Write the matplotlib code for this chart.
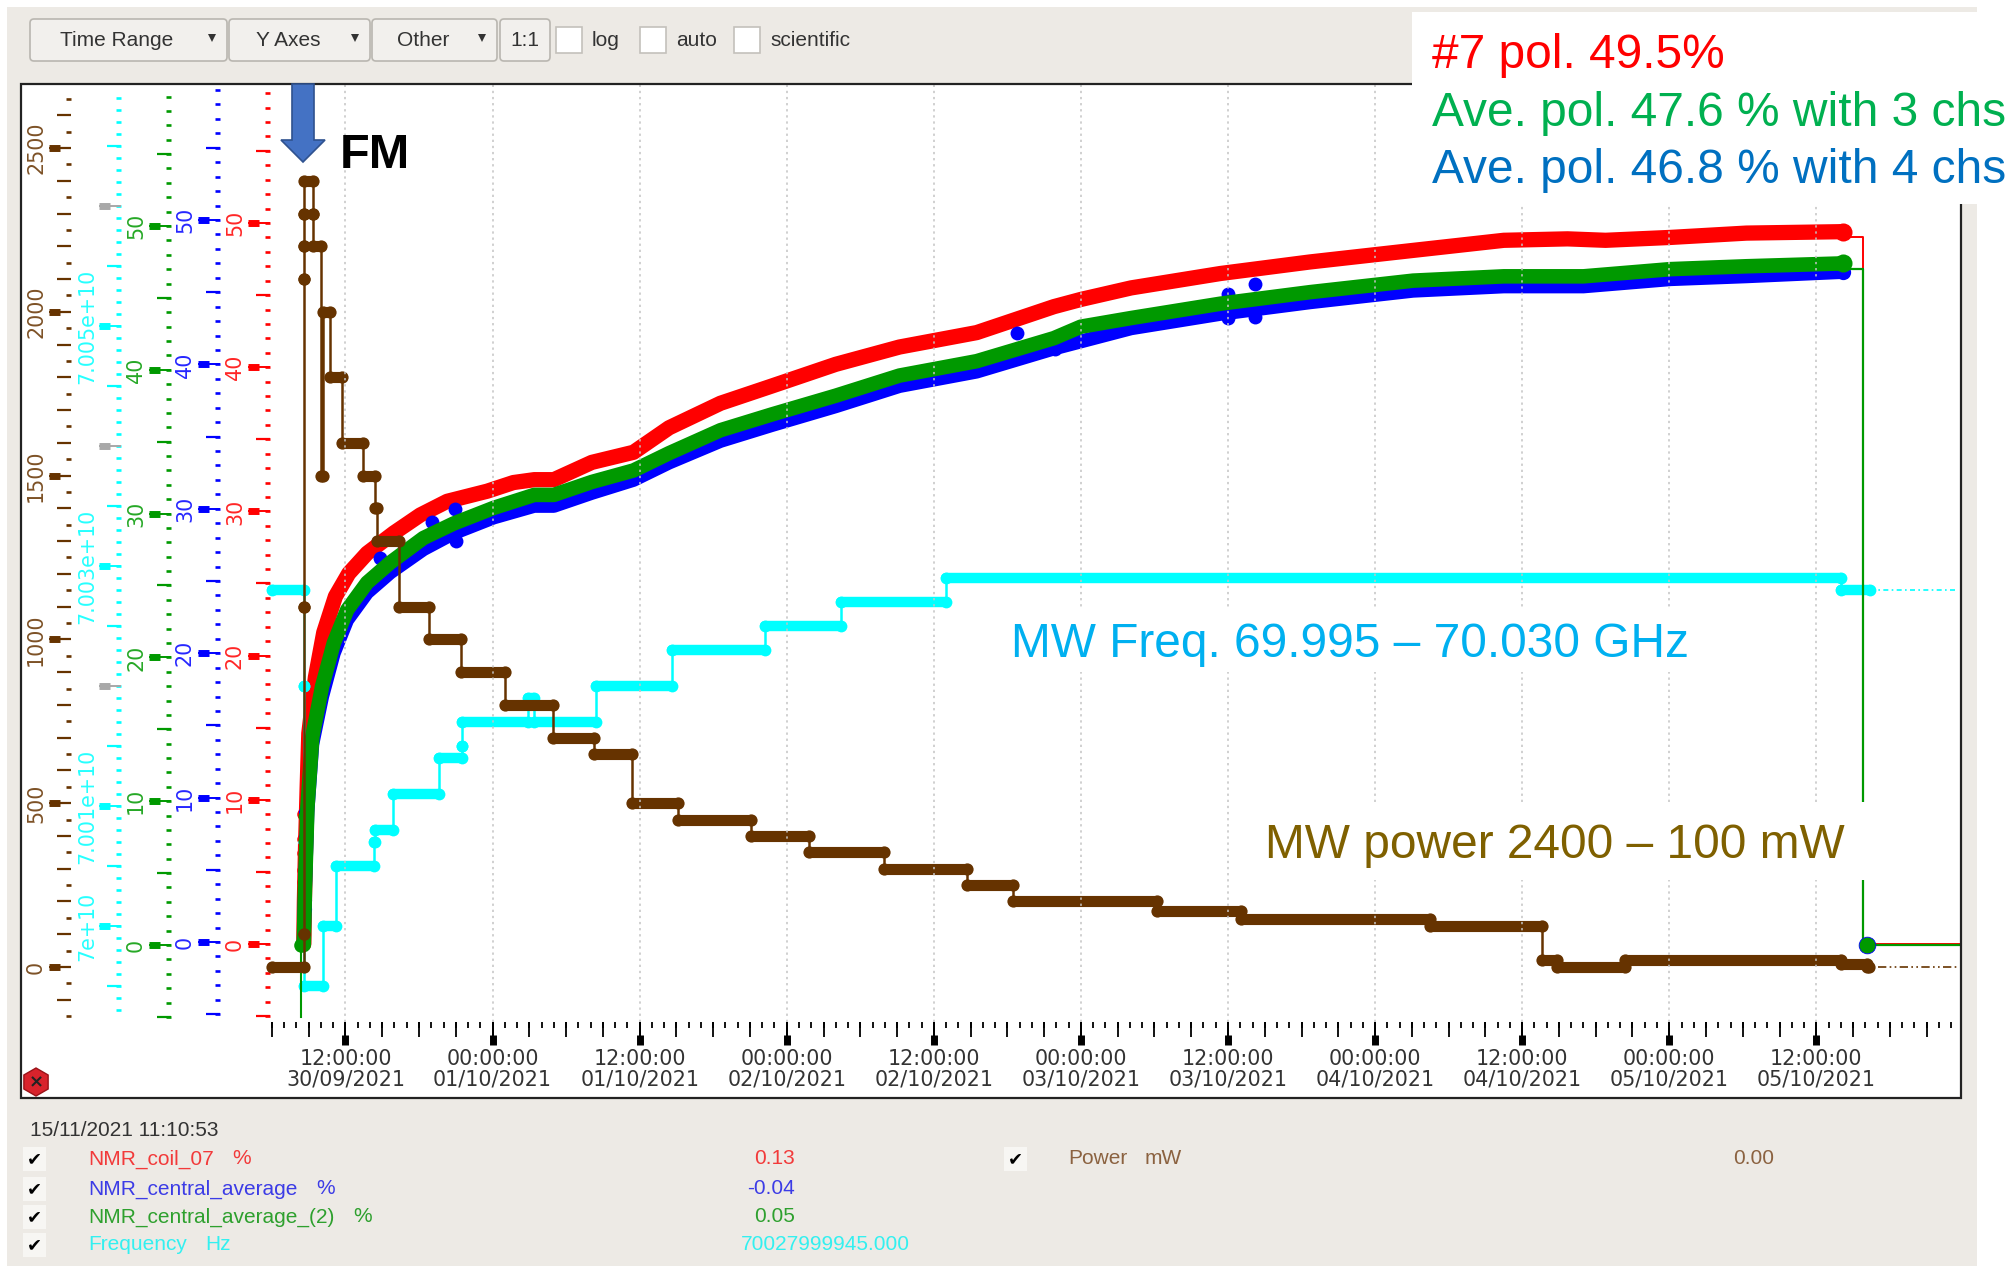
import numpy as np
import matplotlib
matplotlib.use("Agg")
import matplotlib.pyplot as plt
from matplotlib.patches import FancyBboxPatch, Polygon, Rectangle, RegularPolygon

# hours counted from 12:00 on 30/09/2021
time_ticks = [0, 12, 24, 36, 48, 60, 72, 84, 96, 108, 120]
time_labels = [
    "12:00:00\n30/09/2021", "00:00:00\n01/10/2021", "12:00:00\n01/10/2021", "00:00:00\n02/10/2021",
    "12:00:00\n02/10/2021", "00:00:00\n03/10/2021", "12:00:00\n03/10/2021", "00:00:00\n04/10/2021",
    "12:00:00\n04/10/2021", "00:00:00\n05/10/2021", "12:00:00\n05/10/2021",
]

red_t = [-3.4, -3.35, -3.25, -3.12, -2.99, -2.45, -1.77, -0.82, 0.27, 1.77, 3.94, 6.1, 8.3, 11.56, 13.7, 15.4, 17.0,
         20.1, 23.5, 26.4, 30.6, 34.8, 40.0, 45.2, 51.5, 57.8, 60.0, 64.1, 71.4, 78.7, 87.1, 94.5, 99.7, 102.8, 108.1,
         114.3, 122.2]
red_v = [0, 3, 7, 11, 14.6, 18.5, 21.6, 24.1, 25.7, 27.1, 28.5, 29.75, 30.7, 31.4, 32.0, 32.2, 32.2,
         33.4, 34.1, 35.8, 37.5, 38.7, 40.2, 41.4, 42.4, 44.2, 44.7, 45.5, 46.5, 47.3, 48.1, 48.8, 48.9, 48.8, 49.0,
         49.3, 49.4]

green_t = [-3.4, -3.3, -3.1, -2.7, -1.9, -0.95, 0.14, 1.77, 3.67, 6.36, 8.8, 12.1, 15.4, 17.0, 20.1, 23.5, 26.4,
           30.6, 34.8, 40.0, 45.2, 51.5, 57.8, 60.0, 64.1, 71.4, 78.7, 87.1, 94.5, 101.0, 108.1, 114.3, 122.2]
green_v = [0, 4, 9.6, 14.5, 18, 21, 23.3, 25.2, 26.6, 28.3, 29.3, 30.4, 31.3, 31.3, 32.2, 33.0, 34.2,
           35.8, 36.9, 38.2, 39.6, 40.6, 42.2, 43.0, 43.6, 44.6, 45.4, 46.2, 46.5, 46.5, 47.0, 47.2, 47.4]

blue_t = [-3.4, -3.3, -3.1, -2.7, -1.9, -0.95, 0.14, 1.77, 3.67, 6.36, 8.8, 12.1, 15.4, 17.0, 20.1, 23.5, 26.4,
          30.6, 34.8, 40.0, 45.2, 51.5, 57.8, 64.1, 71.4, 78.7, 87.1, 94.5, 101.0, 108.1, 114.3, 122.2]
blue_v = [0, 3.6, 9, 13.7, 17, 20, 22.3, 24.2, 25.6, 27.2, 28.3, 29.4, 30.2, 30.2, 31.1, 32, 33.2,
          34.7, 35.8, 37.1, 38.5, 39.5, 41.1, 42.5, 43.5, 44.3, 45.1, 45.4, 45.4, 45.9, 46.1, 46.4]
blue_bump_t = [2.85, 4.1, 7.1, 8.9, 9.0, 54.8, 57.9, 72.0, 72.0, 74.2, 74.2]
blue_bump_v = [26.6, 26.0, 29.1, 30.0, 27.8, 42.2, 41.1, 44.9, 43.2, 45.6, 43.3]
ramp_marks = [9, 7.3, 6.3, 5.1, 4.3, 2.9, 2.3]

# step series: each level runs from the previous end time to its own end time
power_end = [-3.4, -3.4, -3.4, -3.4, -3.4, -3.4, -2.66, -2.66, -2.0, -1.86, -1.28, -0.3, 1.4, 2.45, 2.55, 4.34,
             6.8, 9.4, 13.0, 16.9, 20.25, 23.4, 27.1, 33.1, 37.8, 43.9, 50.7, 54.5, 66.2, 73.1, 88.5, 97.6,
             98.8, 104.4, 122.0, 124.1, 124.3]
power_mw = [0, 100, 1100, 2100, 2200, 2300, 2400, 2300, 2200, 1500, 2000, 1800, 1600, 1500, 1400, 1300,
            1100, 1000, 900, 800, 700, 650, 500, 450, 400, 350, 300, 250, 200, 170, 145, 125,
            20, 0, 20, 8, 0]

freq_end = [-3.4, -3.4, -3.4, -3.4, -1.86, -0.76, 2.3, 2.37, 3.9, 7.66, 9.5, 9.5, 14.9, 15.4, 20.4, 26.6,
            34.2, 40.4, 49.0, 122.0, 124.4]
freq_hz = [7.0028e10, 7.0020e10, 7.0007e10, 7.0000e10, 6.9995e10, 7.0000e10, 7.0005e10, 7.0007e10, 7.0008e10,
           7.0011e10, 7.0014e10, 7.0015e10, 7.0017e10, 7.0019e10, 7.0017e10, 7.0020e10,
           7.0023e10, 7.0025e10, 7.0027e10, 7.0029e10, 7.0028e10]

legend_names = ["NMR_coil_07", "NMR_central_average", "NMR_central_average_(2)", "Frequency"]
legend_units = ["%", "%", "%", "Hz"]
legend_values = ["0.13", "-0.04", "0.05", "70027999945.000"]

FW, FH = 2013, 1266
LEFT, RIGHT, TOP, BOTTOM = 21, 1961, 84, 1098
XLIM = (-26.47, 131.8)
AXIS_Y = 0.075  # height of the time axis inside the frame


def fx(px):
    return (px - LEFT) / (RIGHT - LEFT)


def pair_ylim(v0, px0, v1, px1):
    # value at frame bottom and frame top from two known tick pixels
    k = (v1 - v0) / (px1 - px0)
    return v0 + (BOTTOM - px0) * k, v0 + (TOP - px0) * k


def draw_scale(a, right, color, dots, mids, majors, labels, label_x, grays=()):
    tr = a.get_yaxis_transform()
    a.hlines(dots, fx(right - 5), fx(right), colors=color, lw=1.9, transform=tr, clip_on=False)
    a.hlines(mids, fx(right - 14), fx(right), colors=color, lw=1.6, transform=tr, clip_on=False)
    a.hlines(majors, fx(right - 22), fx(right), colors=color, lw=1.4, transform=tr, clip_on=False)
    a.hlines(majors, fx(right - 22), fx(right - 11), colors=color, lw=5, transform=tr, clip_on=False)
    if len(grays):
        a.hlines(grays, fx(right - 22), fx(right), colors="#a8a8a8", lw=1.4, transform=tr, clip_on=False)
        a.hlines(grays, fx(right - 22), fx(right - 11), colors="#a8a8a8", lw=5, transform=tr, clip_on=False)
    for v, s in zip(majors, labels):
        a.text(fx(label_x), v, s, transform=tr, color=color, rotation=90, ha="center", va="center",
               fontsize=14.9, alpha=0.85)


def draw_steps(a, ends, levels, color, lw, ms):
    xs, ys = [ends[0]], [levels[0]]
    prev = XLIM[0]
    for i, (e, v) in enumerate(zip(ends, levels)):
        start = -6.0 if i == 0 else prev
        a.plot([start, e], [v, v], "-o", color=color, lw=lw, ms=ms, mew=0, solid_capstyle="round")
        if i:
            xs += [prev, e]
            ys += [v, v]
        prev = e
    a.plot(xs, ys, color=color, lw=1.8)


fig = plt.figure(figsize=(FW / 100, FH / 100), dpi=100, facecolor="white")
fig.patches.append(Rectangle((7 / FW, 0), (1977 - 7) / FW, (FH - 7) / FH, transform=fig.transFigure,
                             facecolor="#edeae5", edgecolor="none", zorder=-10))

rect = [LEFT / FW, 1 - BOTTOM / FH, (RIGHT - LEFT) / FW, (BOTTOM - TOP) / FH]
ax = fig.add_axes(rect, facecolor="white", zorder=1)
ax.set_xlim(*XLIM)
for name in ["top", "left", "right"]:
    ax.spines[name].set_visible(False)
ax.spines["bottom"].set_position(("axes", AXIS_Y))
ax.spines["bottom"].set_visible(False)
ax.yaxis.set_visible(False)
ax.set_xticks(time_ticks)
ax.set_xticklabels(time_labels, fontsize=14.9, color="#333333", linespacing=1.05)
ax.set_xticks(np.arange(-6, 132, 1), minor=True)
ax.tick_params(axis="x", which="major", length=16.5, width=1.4, pad=3, color="black")
ax.tick_params(axis="x", which="minor", length=4.3, width=1.3, color="black")
xtr = ax.get_xaxis_transform()
ax.vlines(np.arange(-6, 132, 3), AXIS_Y - 0.0148, AXIS_Y, colors="black", lw=1.3, transform=xtr, clip_on=False)
ax.vlines(time_ticks, AXIS_Y - 0.0227, AXIS_Y - 0.0128, colors="black", lw=5, transform=xtr, clip_on=False)

ax_green = ax.twinx()
ax_blue = ax.twinx()
ax_cyan = ax.twinx()
ax_power = ax.twinx()
for z, a in enumerate([ax_blue, ax_cyan, ax_green, ax_power]):
    a.axis("off")
    a.set_zorder(2 + z)

# red channel, on the main axes
ax.plot(red_t, red_v, color="#ff0000", lw=11, solid_capstyle="round", zorder=3)
ax.plot([-3.45] * len(ramp_marks), ramp_marks, "o", color="#ff0000", ms=9, mew=0, zorder=3)
ax.plot([122.2], [49.4], "o", color="#ff0000", ms=13, mew=0, zorder=3)
ax.plot([122.2, 123.8, 123.8, 131.8], [49.0, 49.0, 0, 0], color="#ff0000", lw=1.4)
ax.set_ylim(*pair_ylim(0, 944, 50, 223))
draw_scale(ax, 270, "#ff0000", np.arange(-5, 60), np.arange(-5, 60, 10), [0, 10, 20, 30, 40, 50],
           ["0", "10", "20", "30", "40", "50"], 235)

ax_blue.plot(blue_t, blue_v, color="#0000ff", lw=10, solid_capstyle="round")
ax_blue.plot(blue_bump_t, blue_bump_v, "o", color="#0000ff", ms=10, mew=0)
ax_blue.plot([-3.3] * len(ramp_marks), ramp_marks, "o", color="#0000ff", ms=9.5, mew=0)
ax_blue.plot([122.2], [46.4], "o", color="#0000ff", ms=11, mew=0)
ax_blue.plot([122.2, 123.8], [46.6, 46.6], color="#0000ff", lw=1.4)
ax_blue.set_ylim(*pair_ylim(0, 942, 50, 220))
draw_scale(ax_blue, 220, "#0000ff", np.arange(-5, 60), np.arange(-5, 60, 10), [0, 10, 20, 30, 40, 50],
           ["0", "10", "20", "30", "40", "50"], 185)

ax_green.plot(green_t, green_v, color="#009900", lw=10.5, solid_capstyle="round")
ax_green.plot([-3.4] * len(ramp_marks), ramp_marks, "o", color="#009900", ms=8.5, mew=0)
ax_green.plot([122.2], [47.4], "o", color="#009900", ms=13, mew=0)
ax_green.plot([122.2, 123.8, 123.8, 131.8], [47.0, 47.0, 0, 0], color="#009900", lw=1.6)
ax_green.plot([-3.6, -3.6], [-5, 0], color="#009900", lw=1.5)
ax_green.plot([-3.6], [0], "o", color="#009900", ms=10.5, mew=0)
ax_green.plot([124.1], [0], "o", color="#009900", mec="#0000ff", ms=12, mew=0.6)
ax_green.set_ylim(*pair_ylim(0, 945, 50, 226))
draw_scale(ax_green, 171, "#009900", np.arange(-5, 60), np.arange(-5, 60, 10), [0, 10, 20, 30, 40, 50],
           ["0", "10", "20", "30", "40", "50"], 136)

draw_steps(ax_cyan, freq_end, freq_hz, "#00ffff", 7.5, 8.5)
ax_cyan.plot([124.4, 131.5], [7.0028e10, 7.0028e10], color="#00ffff", lw=1.2, ls=(0, (3, 2, 1, 2)))
ax_cyan.set_ylim(*pair_ylim(7.000e10, 926, 7.005e10, 326))
draw_scale(ax_cyan, 121, "#00ffff", np.arange(6.9993e10, 7.0070e10, 1e6), np.arange(6.9995e10, 7.0066e10, 1e7),
           [7.000e10, 7.001e10, 7.003e10, 7.005e10], ["7e+10", "7.001e+10", "7.003e+10", "7.005e+10"], 87,
           grays=[7.002e10, 7.004e10, 7.006e10])

draw_steps(ax_power, power_end, power_mw, "#663300", 8, 8.8)
ax_power.plot([125, 131.5], [0, 0], color="#663300", lw=1.2, ls=(0, (5, 2, 1, 2, 1, 2)))
ax_power.set_ylim(*pair_ylim(0, 967, 2500, 148))
draw_scale(ax_power, 71, "#663300", np.arange(-150, 2700, 100), np.arange(-100, 2700, 100),
           [0, 500, 1000, 1500, 2000, 2500], ["0", "500", "1000", "1500", "2000", "2500"], 36)
# dotted time grid stays on top of the curves
ax_power.vlines(time_ticks, AXIS_Y, 1, colors="#c4c4c4", lw=1.1, linestyles=(0, (1.5, 2.5)),
                transform=ax_power.get_xaxis_transform())

# window chrome and the slide annotations, in figure pixels
over = fig.add_axes([0, 0, 1, 1], zorder=20)
over.set_xlim(0, FW)
over.set_ylim(FH, 0)
over.axis("off")
over.add_patch(Rectangle((LEFT, TOP), RIGHT - LEFT, BOTTOM - TOP, fill=False, ec="#222222", lw=1.6))

for x0, x1, label, cx, caret in [(30, 227, "Time Range", 117, 212), (229, 370, "Y Axes", 288, 355),
                                 (372, 497, "Other", 423, 482), (500, 550, "1:1", 525, None)]:
    over.add_patch(FancyBboxPatch((x0 + 2, 21), x1 - x0 - 4, 38, boxstyle="round,pad=2,rounding_size=4",
                                  fc="#f2f0ed", ec="#b9b6b0", lw=1.2))
    over.text(cx, 41, label, ha="center", va="center", fontsize=15, color="#333333", family="Liberation Sans")
    if caret:
        over.plot([caret], [38], marker="v", ms=6, color="#333333", mew=0)
for x0, label in [(556, "log"), (640, "auto"), (734, "scientific")]:
    over.add_patch(Rectangle((x0, 27), 26, 26, fc="white", ec="#c4c1bb", lw=1.2))
    over.text(x0 + 36, 41, label, va="center", fontsize=15, color="#333333", family="Liberation Sans")

# white slide boxes
over.add_patch(Rectangle((1412, 12), 601, 192, fc="white", ec="none"))
over.add_patch(Rectangle((1258, 802), 622, 78, fc="white", ec="none"))
over.add_patch(Rectangle((1005, 610), 695, 62, fc="white", ec="none"))

big = dict(fontsize=34.5, family="Liberation Sans", va="baseline")
over.text(1432, 68, "#7 pol. 49.5%", color="#ff0000", **big)
over.text(1432, 126, "Ave. pol. 47.6 % with 3 chs", color="#00b050", **big)
over.text(1432, 183, "Ave. pol. 46.8 % with 4 chs", color="#0070c0", **big)
over.text(1011, 657, "MW Freq. 69.995 – 70.030 GHz", color="#00b0f0", **big)
over.text(1265, 858, "MW power 2400 – 100 mW", color="#7f6000", **big)
over.text(340, 168, "FM", color="black", fontsize=35, fontweight="bold", family="Liberation Sans", va="baseline")

over.add_patch(Polygon([(292, 84), (314, 84), (314, 140), (325, 140), (303, 162), (281, 140), (292, 140)],
                       closed=True, fc="#4472c4", ec="#2f528f", lw=1.2))

over.add_patch(RegularPolygon((36, 1082), 6, radius=14, fc="#d8232c", ec="#9a1218", lw=1))
over.text(36, 1082, "×", color="#222222", ha="center", va="center", fontsize=13, fontweight="bold")

# readout table under the plot
over.text(30, 1131, "15/11/2021 11:10:53", va="center", fontsize=15, color="#333333", family="Liberation Sans")
leg_colors = ["#f23a3a", "#3c3ce6", "#2ea02e", "#33f0f0"]
leg_rows = [1159, 1189, 1217, 1245]
unit_x = [232, 316, 353, 205]
value_x = [795, 795, 795, 910]
for name, unit, value, col, y, ux, vx in zip(legend_names, legend_units, legend_values, leg_colors, leg_rows,
                                             unit_x, value_x):
    over.add_patch(Rectangle((23, y - 12), 23, 24, fc="#f7f6f3", ec="none"))
    over.text(34, y, "\u2714", ha="center", va="center", fontsize=13, color="black", family="DejaVu Sans")
    over.text(88, y, name, va="center", fontsize=15, color=col, family="Liberation Sans")
    over.text(ux, y, unit, va="center", fontsize=15, color=col, family="Liberation Sans")
    over.text(vx, y, value, va="center", ha="right", fontsize=15, color=col, family="Liberation Sans")
over.add_patch(Rectangle((1004, 1147), 23, 24, fc="#f7f6f3", ec="none"))
over.text(1015, 1159, "\u2714", ha="center", va="center", fontsize=13, color="black", family="DejaVu Sans")
over.text(1068, 1159, "Power", va="center", fontsize=15, color="#8b6240", family="Liberation Sans")
over.text(1145, 1159, "mW", va="center", fontsize=15, color="#8b6240", family="Liberation Sans")
over.text(1774, 1159, "0.00", va="center", ha="right", fontsize=15, color="#8b6240", family="Liberation Sans")

fig.savefig("out.png", dpi=100)
